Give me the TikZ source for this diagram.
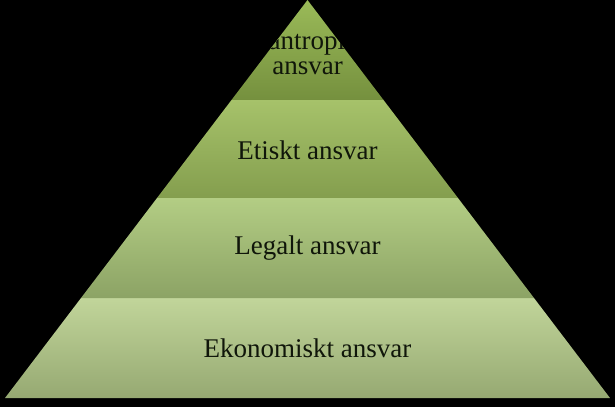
\documentclass[tikz,border=0pt]{standalone}
\usepackage{xcolor}
\usepackage{fontspec}
\setmainfont{Liberation Serif}
\usepackage{tikz}
\definecolor{phiTop}{HTML}{9ABA58}
\definecolor{phiBot}{HTML}{75903E}
\definecolor{ethTop}{HTML}{A6C26A}
\definecolor{ethBot}{HTML}{849E4E}
\definecolor{legTop}{HTML}{B3CD84}
\definecolor{legBot}{HTML}{8CA365}
\definecolor{ecoTop}{HTML}{C1D59A}
\definecolor{ecoBot}{HTML}{96A972}
\definecolor{txt}{HTML}{10160A}
% one band of the pyramid: top colour, bottom colour, upper y, lower y
\newcommand{\band}[4]{
\shade[top color=#1,bottom color=#2]
  ({307.5-0.76*(407-#3)}, #3) -- ({307.5+0.76*(407-#3)}, #3)
  -- ({307.5+0.76*(407-#4)}, #4) -- ({307.5-0.76*(407-#4)}, #4) -- cycle;
}
\begin{document}
\begin{tikzpicture}[x=1pt, y=1pt,
    lbl/.style={text=txt, font=\fontsize{27}{25}\selectfont, align=center, inner sep=0pt}]
      \fill[black] (0,0) rectangle (615,407);
      \useasboundingbox (0,0) rectangle (615,407);
      \band{ecoTop}{ecoBot}{109}{9}
      \band{legTop}{legBot}{209}{109}
      \band{ethTop}{ethBot}{307}{209}
      \begin{scope}
        \clip (307.5,407) -- (383.5,307) -- (231.5,307) -- cycle;
        \band{phiTop}{phiBot}{407}{307}
        \node[lbl] (phil) at (307.5,354) {Filantropiskt\\ansvar};
      \end{scope}
      \node[lbl] (eth) at (307.5,257) {Etiskt ansvar};
      \node[lbl] (leg) at (307.5,159) {Legalt ansvar};
      \node[lbl] (eco) at (307.5,59) {Ekonomiskt ansvar};
    \end{tikzpicture}
\end{document}
